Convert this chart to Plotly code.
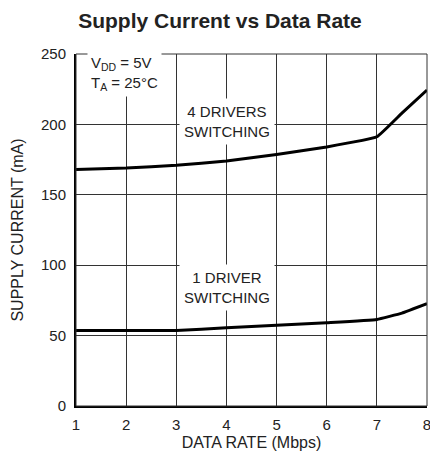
import plotly.graph_objects as go

data_rate = [1, 2, 3, 4, 5, 6, 7, 7.5, 8]
four_drivers = [168, 169, 171, 174, 178.7, 184, 191.2, 208, 224.4]
one_driver = [53.7, 53.7, 53.7, 55.5, 57.3, 59.2, 61.5, 66, 72.7]

x_ticks = [1, 2, 3, 4, 5, 6, 7, 8]
y_ticks = [0, 50, 100, 150, 200, 250]

FONT = "Liberation Sans Narrow, Arial Narrow, Liberation Sans, Arial, sans-serif"
TXT = "#222222"

fig = go.Figure()
for ys in (four_drivers, one_driver):
    fig.add_trace(go.Scatter(x=data_rate, y=ys, mode="lines",
                             line=dict(color="black", width=3, shape="spline", smoothing=0.3),
                             showlegend=False, hoverinfo="skip", cliponaxis=False))

fig.update_layout(
    width=430, height=464,
    margin=dict(l=76, r=3, t=54, b=58, autoexpand=False),
    paper_bgcolor="white", plot_bgcolor="white",
    font=dict(family=FONT, color=TXT, size=14),
    title=dict(text="<b>Supply Current vs Data Rate</b>", x=220 / 430, xanchor="center",
               y=1 - 21 / 464, yanchor="middle",
               font=dict(family=FONT, size=21, color=TXT)),
    showlegend=False,
)
fig.update_xaxes(range=[1, 8], tickvals=x_ticks, ticktext=[str(v) for v in x_ticks],
                 showgrid=True, gridcolor="#333333", gridwidth=1,
                 showline=True, linecolor="black", linewidth=2, mirror=False,
                 ticks="", zeroline=False, automargin=False, ticklabeloverflow="allow",
                 ticklabelstandoff=4,
                 title=dict(text="DATA RATE (Mbps)", font=dict(size=16, family=FONT), standoff=5),
                 tickfont=dict(size=15, family=FONT))
fig.update_yaxes(range=[0, 250], tickvals=y_ticks, ticktext=[str(v) for v in y_ticks],
                 showgrid=True, gridcolor="#333333", gridwidth=1,
                 showline=True, linecolor="black", linewidth=2,
                 ticks="", zeroline=False, automargin=False, ticklabeloverflow="allow",
                 ticklabelstandoff=5,
                 title=dict(text="SUPPLY CURRENT (mA)", font=dict(size=16, family=FONT), standoff=13),
                 tickfont=dict(size=15, family=FONT))

# top/right frame
fig.add_shape(type="rect", xref="paper", yref="paper", x0=0, x1=1, y0=0, y1=1,
              line=dict(color="#333333", width=1), layer="above")

fig.add_annotation(x=1.22, y=236, xref="x", yref="y",
                   text="V<sub>DD</sub> = 5V<br>T<sub>A</sub> = 25°C",
                   showarrow=False, xanchor="left", yanchor="middle", align="left",
                   bgcolor="white", font=dict(size=15, family=FONT, color=TXT), borderpad=3)
fig.add_annotation(x=4.02, y=202, xref="x", yref="y",
                   text="4 DRIVERS<br>SWITCHING",
                   showarrow=False, xanchor="center", yanchor="middle", align="center",
                   bgcolor="white", font=dict(size=15, family=FONT, color=TXT), borderpad=4)
fig.add_annotation(x=4.02, y=84, xref="x", yref="y",
                   text="1 DRIVER<br>SWITCHING",
                   showarrow=False, xanchor="center", yanchor="middle", align="center",
                   bgcolor="white", font=dict(size=15, family=FONT, color=TXT), borderpad=4)

fig.write_html("out.html", config={"displayModeBar": False},
               post_script="document.body.style.margin='0';document.body.style.overflow='hidden';")
